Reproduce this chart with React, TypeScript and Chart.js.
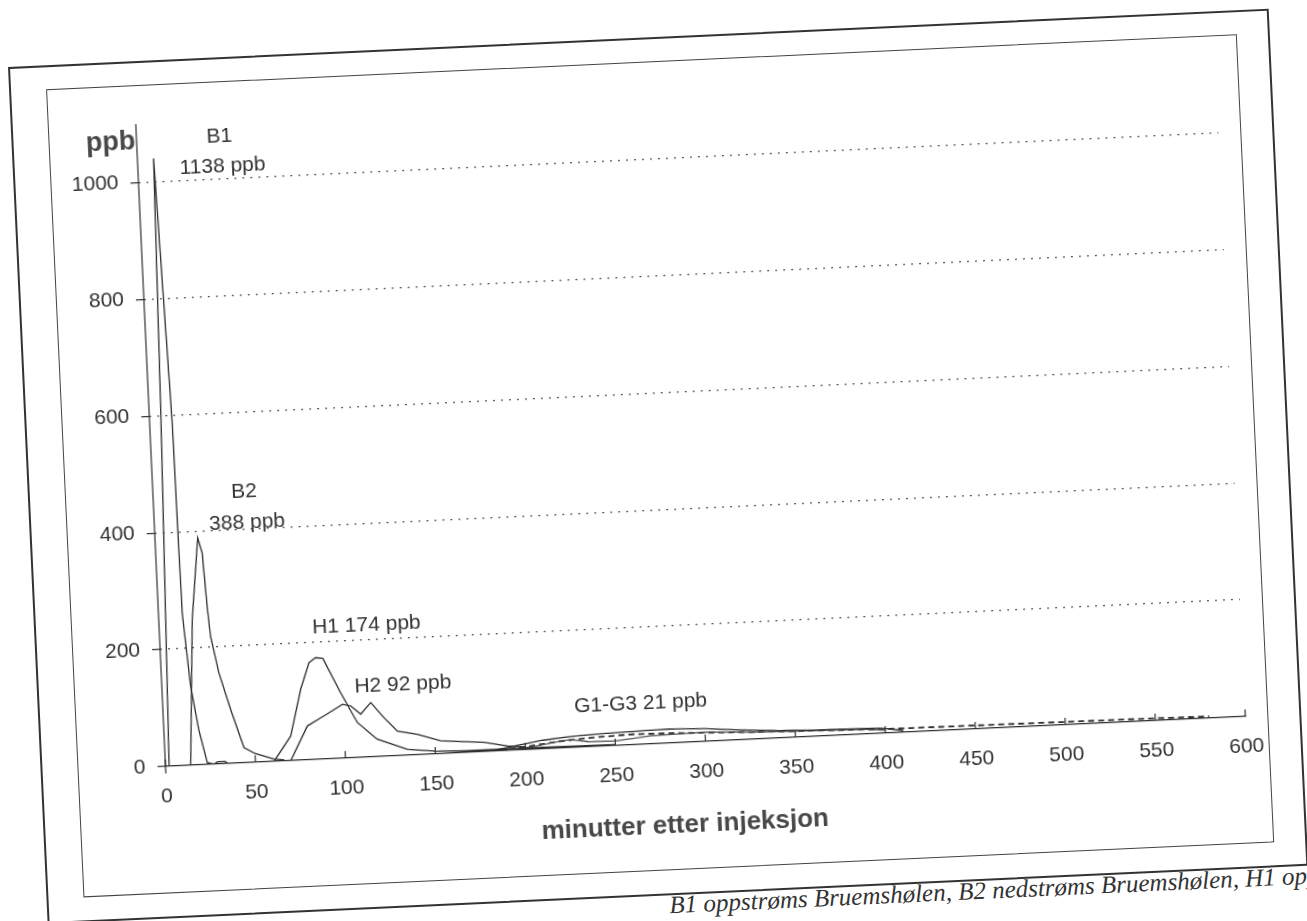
import React, { useEffect, useRef } from "react";
import { Chart, registerables } from "chart.js";

Chart.register(...registerables);

// ---- data (minutes after injection, ppb) ----
const b1Minutes = [0, 2, 6.4, 9, 12.5, 13.2, 16, 19.4, 23.3, 27, 29, 33, 35, 40];
const b1Ppb = [0, 0, 593, 1040, 593, 261, 135, 60, 3, 0, 4, 4, 0, 0];

const b2Minutes = [0, 14, 18.6, 23.7, 25.8, 27.2, 28.3, 32, 37.6, 44, 50, 60.3, 66];
const b2Ppb = [0, 0, 249, 388, 362, 270, 219, 156, 92, 26, 15, 4, 2];

const h1Minutes = [60.3, 70.2, 76.9, 82.2, 86, 90, 99, 107.5, 118, 134.6, 150, 166, 200, 250];
const h1Ppb = [0, 42, 121, 166, 174, 172, 112, 60, 30, 10, 5, 3, 3, 2];

const h2Minutes = [69.6, 79.7, 89.2, 99.7, 104.2, 109.6, 115.4, 122.4, 129.5, 140.6, 153.3, 177.3, 190.2, 200];
const h2Ppb = [0, 58, 74, 92, 89, 74, 93, 66, 42, 35, 22, 16, 8, 5];

const g1Minutes = [180, 195, 210, 225, 240, 260, 280, 300, 320, 340, 360, 380, 395, 400, 410];
const g1Ppb = [0, 8, 15, 19, 21, 23, 24, 22, 17, 13, 11, 10, 9, 8, 3];

const g2Minutes = [190, 205, 215, 225, 235, 250, 270, 300, 330, 360, 390, 400];
const g2Ppb = [0, 5, 10, 14, 9, 8, 14, 16, 12, 10, 8, 5];

const g3Minutes = [180, 200, 220, 240, 260, 280, 300, 330, 360, 400, 450, 500, 550, 580];
const g3Ppb = [0, 5, 12, 16, 18, 17, 15, 12, 10, 7, 6, 5, 4, 3];

const xTickStep = 50;
const yTickStep = 200;
const yMaxLabelled = 1000;

const labelTexts = ["B1", "1138 ppb", "B2", "388 ppb", "H1 174 ppb", "H2 92 ppb", "G1-G3 21 ppb"];
const labelMinutes = [46, 47, 50.5, 51.5, 115, 133.7, 265];
const labelPpb = [1073, 1021, 464, 410, 226, 121.6, 69];

const yTitle = "ppb";
const xTitle = "minutter etter injeksjon";
const caption = "B1 oppstrøms Bruemshølen, B2 nedstrøms Bruemshølen, H1 oppstrøms";

const FONT = '"Liberation Sans", Arial, sans-serif';
const INK = "#2e2e2e";

function pts(xs: number[], ys: number[]) {
  return xs.map((x, i) => ({ x, y: ys[i] }));
}

const overlayPlugin = {
  id: "overlay",
  afterDraw(chart: any) {
    const { ctx, chartArea } = chart;
    const x = chart.scales.x;
    const y = chart.scales.y;
    ctx.save();
    ctx.setLineDash([]);
    ctx.strokeStyle = INK;
    ctx.lineWidth = 1.2;
    // y axis line (solid), slightly below x axis
    ctx.beginPath();
    ctx.moveTo(chartArea.left, chartArea.top);
    ctx.lineTo(chartArea.left, chartArea.bottom + 7);
    ctx.stroke();
    // x tick marks pointing inward
    x.ticks.forEach((t: any) => {
      const px = x.getPixelForValue(t.value);
      ctx.beginPath();
      ctx.moveTo(px, chartArea.bottom);
      ctx.lineTo(px, chartArea.bottom - 7);
      ctx.stroke();
    });
    // annotations
    ctx.fillStyle = "#333";
    ctx.font = `21px ${FONT}`;
    ctx.textAlign = "center";
    ctx.textBaseline = "middle";
    labelTexts.forEach((s, i) => {
      ctx.fillText(s, x.getPixelForValue(labelMinutes[i]), y.getPixelForValue(labelPpb[i]));
    });
    // axis titles
    ctx.fillStyle = "#484848";
    ctx.font = `bold 27px ${FONT}`;
    ctx.fillText(yTitle, chartArea.left - 26, y.getPixelForValue(1070));
    ctx.font = `bold 26px ${FONT}`;
    ctx.fillText(xTitle, (chartArea.left + chartArea.right) / 2 - 24, chartArea.bottom + 83);
    ctx.restore();
  },
};

export default function App() {
  const ref = useRef<HTMLCanvasElement>(null);

  useEffect(() => {
    const lineStyle = {
      borderColor: INK,
      borderWidth: 1.3,
      pointRadius: 0,
      tension: 0,
      fill: false,
    };
    const chart = new Chart(ref.current as HTMLCanvasElement, {
      type: "line",
      data: {
        datasets: [
          { ...lineStyle, label: "B1", data: pts(b1Minutes, b1Ppb) },
          { ...lineStyle, label: "B2", data: pts(b2Minutes, b2Ppb) },
          { ...lineStyle, label: "H1", data: pts(h1Minutes, h1Ppb) },
          { ...lineStyle, label: "H2", data: pts(h2Minutes, h2Ppb) },
          { ...lineStyle, label: "G1", data: pts(g1Minutes, g1Ppb) },
          { ...lineStyle, label: "G2", data: pts(g2Minutes, g2Ppb), borderColor: "#555" },
          { ...lineStyle, label: "G3", data: pts(g3Minutes, g3Ppb), borderDash: [6, 4], borderWidth: 1.8 },
        ] as any,
      },
      options: {
        animation: false,
        responsive: false,
        layout: { padding: { left: 0, right: 23, top: 39, bottom: 0 } },
        plugins: { legend: { display: false }, tooltip: { enabled: false } },
        scales: {
          x: {
            type: "linear",
            min: 0,
            max: 600,
            afterFit: (s: any) => {
              s.height = 127;
              s.paddingLeft = 0;
              s.paddingRight = 0;
            },
            ticks: {
              stepSize: xTickStep,
              padding: 18,
              color: "#333",
              font: { family: FONT, size: 21 },
              maxRotation: 0,
              callback: (v: any) => String(v),
            },
            grid: { display: false, drawTicks: false },
            border: { display: true, color: INK, width: 1.2 },
          },
          y: {
            type: "linear",
            min: 0,
            max: 1100,
            afterFit: (s: any) => {
              s.width = 88;
              s.paddingTop = 0;
              s.paddingBottom = 0;
            },
            afterBuildTicks: (s: any) => {
              s.ticks = s.ticks.filter((t: any) => t.value <= yMaxLabelled);
            },
            ticks: {
              stepSize: yTickStep,
              padding: 12,
              color: "#333",
              font: { family: FONT, size: 21 },
              callback: (v: any) => String(v),
            },
            grid: {
              display: true,
              color: (c: any) => (c.tick && c.tick.value === 0 ? "rgba(0,0,0,0)" : "#555"),
              lineWidth: 1.3,
              drawTicks: true,
              tickLength: 8,
              tickColor: INK,
              tickWidth: 1.2,
              tickBorderDash: [],
            },
            border: { display: false, dash: [2, 6] },
          },
        },
      } as any,
      plugins: [overlayPlugin],
    });
    return () => chart.destroy();
  }, []);

  return (
    <div
      style={{
        position: "fixed",
        left: 0,
        top: 0,
        width: 1307,
        height: 921,
        overflow: "hidden",
        background: "#fff",
      }}
    >
      <div
        style={{
          position: "absolute",
          left: 8,
          top: 67,
          width: 1262,
          height: 858,
          transformOrigin: "0 0",
          transform: "rotate(-2.65deg)",
        }}
      >
        <div
          style={{
            position: "absolute",
            left: 0,
            top: 0,
            width: 1262,
            height: 858,
            border: "2.5px solid #333",
            boxSizing: "border-box",
          }}
        />
        <div
          style={{
            position: "absolute",
            left: 37,
            top: 24,
            width: 1192,
            height: 809,
            border: "1.5px solid #444",
            boxSizing: "border-box",
          }}
        />
        <canvas
          ref={ref}
          width={1192}
          height={809}
          style={{ position: "absolute", left: 37, top: 24, width: 1192, height: 809 }}
        />
        <div
          style={{
            position: "absolute",
            left: 622,
            top: 853,
            whiteSpace: "nowrap",
            font: 'italic 25px "Liberation Serif", "DejaVu Serif", serif',
            lineHeight: "30px",
            color: "#333",
          }}
        >
          {caption}
        </div>
      </div>
    </div>
  );
}
